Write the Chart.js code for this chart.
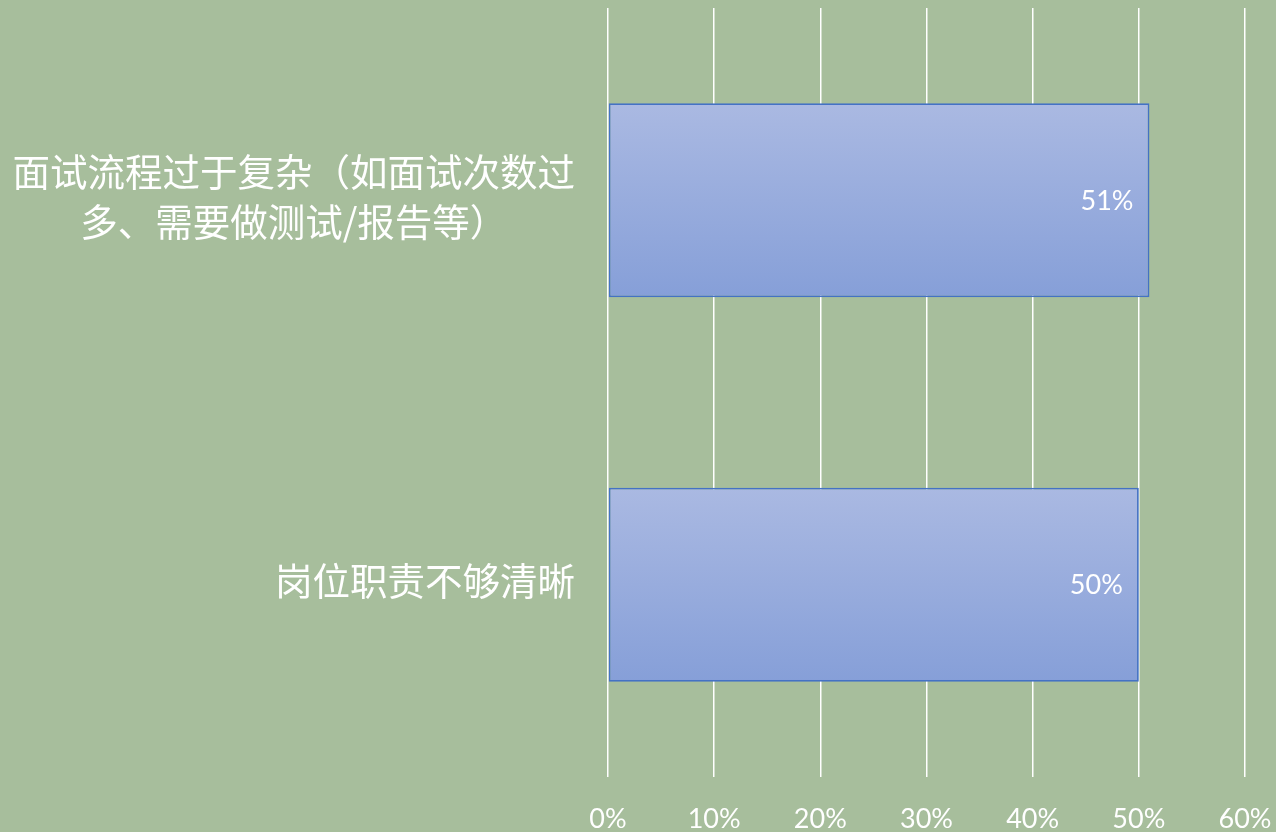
<!DOCTYPE html>
<html>
<head>
<meta charset="utf-8">
<script src="https://cdn.jsdelivr.net/npm/chart.js@4"></script>
<style>
  html, body { margin: 0; padding: 0; background: #a7be9c; }
  #wrap { width: 1276px; height: 832px; position: relative; }
</style>
</head>
<body>
<div id="wrap"><canvas id="c" width="1276" height="832"></canvas></div>
<script>
const categories = [
  ["面试流程过于复杂（如面试次数过", "多、需要做测试/报告等）"],
  ["岗位职责不够清晰"]
];
const values = [51, 50];
const tickMax = 60;
const tickStep = 10;

const barPct = 0.505;
const catFont = '37.5px "Noto Sans CJK SC", sans-serif';
const catLineHeight = 50;
const catPadding = 33;

function barGradient(context) {
  const chart = context.chart;
  const y = chart.scales && chart.scales.y;
  if (!chart.chartArea || !y) return '#98abdc';
  const center = y.getPixelForValue(context.dataIndex);
  const band = (chart.chartArea.bottom - chart.chartArea.top) / categories.length;
  const h = band * barPct / 2;
  const g = chart.ctx.createLinearGradient(0, center - h, 0, center + h);
  g.addColorStop(0, '#aab9e2');
  g.addColorStop(1, '#869fd8');
  return g;
}

// category labels: each block right-aligned to the axis, lines centred within the block
const categoryLabelPlugin = {
  id: 'categoryLabels',
  afterDraw(chart) {
    const ctx = chart.ctx;
    const y = chart.scales.y;
    ctx.save();
    ctx.fillStyle = '#ffffff';
    ctx.font = catFont;
    ctx.textAlign = 'center';
    ctx.textBaseline = 'middle';
    y.ticks.forEach((t, i) => {
      const lines = [].concat(chart.data.labels[i]);
      const widest = Math.max(...lines.map(l => ctx.measureText(l).width));
      const cx = y.right - catPadding - widest / 2;
      const cy = y.getPixelForTick(i);
      const top = cy - (lines.length - 1) * catLineHeight / 2;
      lines.forEach((l, k) => ctx.fillText(l, cx, top + k * catLineHeight - 4));
    });
    ctx.restore();
  }
};

const labelPlugin = {
  id: 'valueLabels',
  afterDatasetsDraw(chart) {
    const ctx = chart.ctx;
    const meta = chart.getDatasetMeta(0);
    ctx.save();
    ctx.fillStyle = '#ffffff';
    ctx.font = '27px Lato, "Noto Sans", sans-serif';
    ctx.textAlign = 'right';
    ctx.textBaseline = 'middle';
    meta.data.forEach((bar, i) => {
      ctx.fillText(values[i] + '%', bar.x - 16, bar.y + 1);
    });
    ctx.restore();
  }
};

new Chart(document.getElementById('c'), {
  type: 'bar',
  data: {
    labels: categories,
    datasets: [{
      data: values,
      backgroundColor: barGradient,
      borderColor: '#4472c4',
      borderWidth: 1.8,
      borderSkipped: false,
      categoryPercentage: 1,
      barPercentage: barPct
    }]
  },
  options: {
    indexAxis: 'y',
    responsive: false,
    animation: false,
    devicePixelRatio: 1,
    layout: { padding: { top: 8, right: 31, left: 0, bottom: 0 } },
    plugins: { legend: { display: false }, tooltip: { enabled: false } },
    scales: {
      x: {
        min: 0,
        max: tickMax,
        ticks: {
          stepSize: tickStep,
          color: '#ffffff',
          font: { family: 'Lato, "Noto Sans", sans-serif', size: 27 },
          padding: 26,
          callback: v => v + '%'
        },
        grid: { color: '#ffffff', lineWidth: 1.5, drawTicks: false },
        border: { display: false },
        afterFit(scale) {
          scale.height = 55;
          scale.paddingLeft = 0; scale.paddingRight = 0;
        }
      },
      y: {
        ticks: { display: false },
        grid: { display: false },
        border: { display: false },
        afterFit(scale) {
          scale.width = 608;
          scale.paddingTop = 0; scale.paddingBottom = 0;
        }
      }
    }
  },
  plugins: [labelPlugin, categoryLabelPlugin]
});
</script>
</body>
</html>
